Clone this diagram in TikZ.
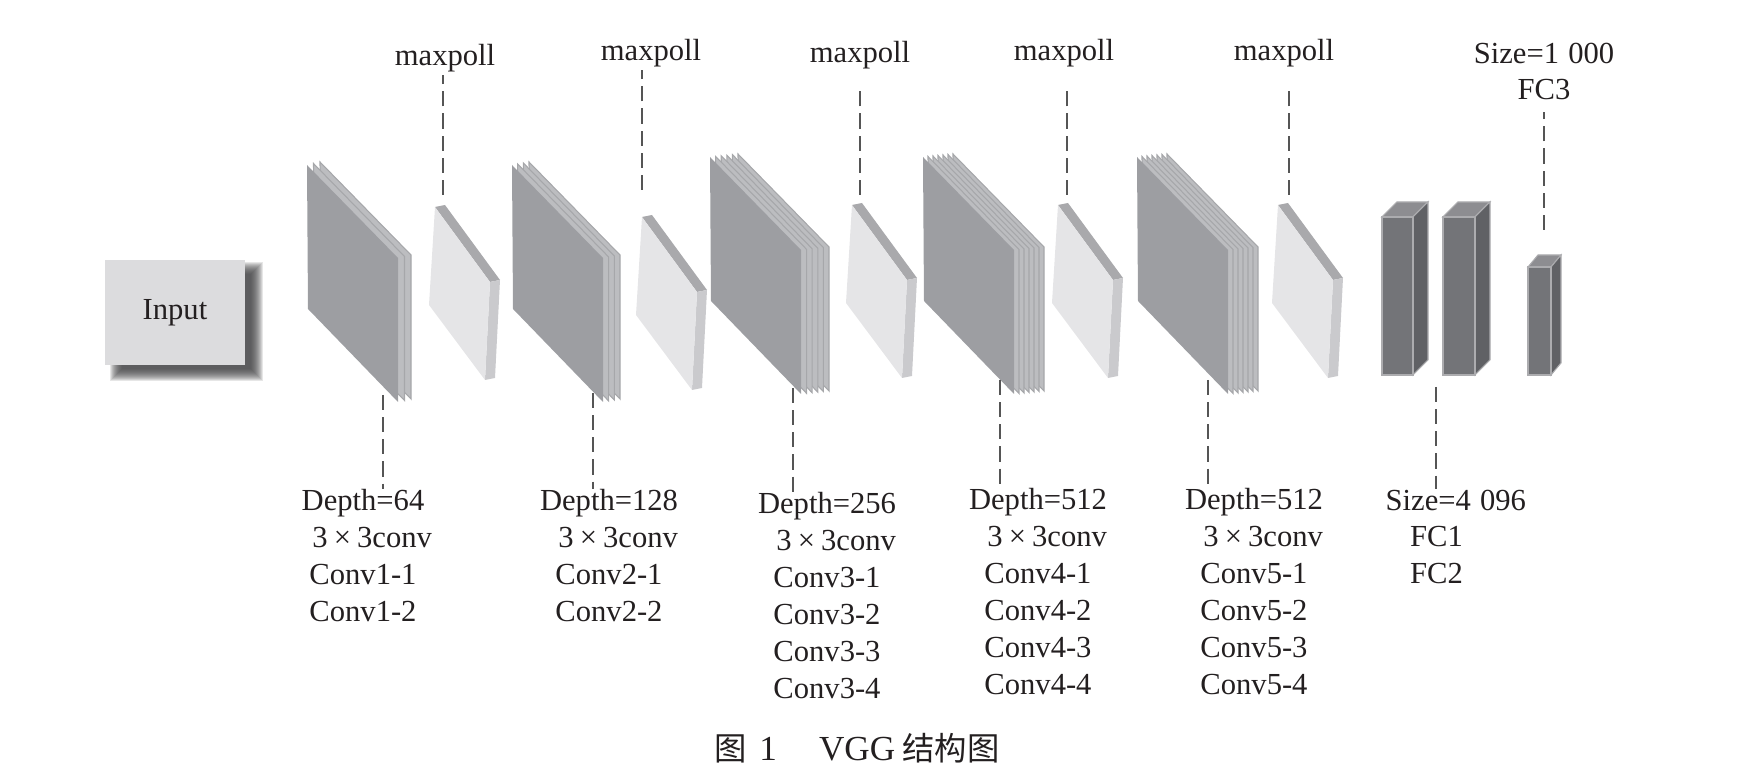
\documentclass[tikz,border=0pt]{standalone}
\usepackage{fontspec}
\setmainfont{Liberation Serif}
\newfontfamily\cjk[Scale=0.92]{Noto Sans CJK SC}

\definecolor{convfront}{RGB}{157,158,162}
\definecolor{convside}{RGB}{188,189,192}
\definecolor{convedge}{RGB}{166,167,170}
\definecolor{poolfront}{RGB}{229,229,231}
\definecolor{pooltop}{RGB}{169,169,172}
\definecolor{poolside}{RGB}{202,202,205}
\definecolor{fcfront}{RGB}{115,116,120}
\definecolor{fcside}{RGB}{96,97,101}
\definecolor{fctop}{RGB}{141,141,145}
\definecolor{fcedge}{RGB}{172,172,175}
\definecolor{inputfill}{RGB}{220,220,222}
\definecolor{shadowgray}{RGB}{60,60,62}
\definecolor{txt}{RGB}{35,31,32}
\definecolor{dashgray}{RGB}{85,85,85}

\newcommand{\lblfont}{\fontsize{8.7pt}{10.5pt}\selectfont}

% conv block: x, y of front top-left corner, layers, thickness
\newcommand{\convslab}[4]{%
  \foreach \k in {#3,...,1}
    \draw[fill=convside,draw=convedge,line width=0.3pt]
      ({#1+\k*#4/#3},{#2-\k*3/#3}) -- ++(91,93) -- ++(0,144) -- ++(-90,-93) -- cycle;
  \fill[convfront] (#1,#2) -- ++(91,93) -- ++(0,144) -- ++(-90,-93) -- cycle;
}
% pool block: x, y of front top-left corner
\newcommand{\poolslab}[2]{%
  \fill[pooltop] (#1,#2) -- ++(55,75) -- ++(10,-2) -- ++(-55,-75) -- cycle;
  \fill[poolside] ({#1+55},{#2+75}) -- ++(-5,98) -- ++(10,-2) -- ++(5,-98) -- cycle;
  \fill[poolfront] (#1,#2) -- ++(55,75) -- ++(-5,98) -- ++(-56,-75) -- cycle;
}
% fc block: x, y, width, height, depth x, depth y
\newcommand{\fcbox}[6]{%
  \draw[fill=fctop,draw=fcedge,line width=0.3pt] (#1,#2) -- ++(#5,-#6) -- ++(#3,0) -- ++(-#5,#6) -- cycle;
  \draw[fill=fcside,draw=fcedge,line width=0.3pt] ({#1+#3},#2) -- ++(#5,-#6) -- ++(0,#4) -- ++(-#5,#6) -- cycle;
  \draw[fill=fcfront,draw=fcedge,line width=0.3pt] (#1,#2) rectangle ++(#3,#4);
}

\begin{document}
\begin{tikzpicture}[x=0.01cm,y=-0.01cm,
  lbl/.style={font=\lblfont,text=txt,inner sep=0pt},
  leader/.style={draw=dashgray,line width=0.35pt,dash pattern=on 4.3pt off 2pt}]
  \useasboundingbox (0,0) rectangle (1753,783);

  % input with soft shadow
  \foreach \b in {12,11,...,0}
    \fill[shadowgray,opacity=0.13] ({122-\b},{274-\b}) rectangle ({251+\b},{369+\b});
  \node[lbl,fill=inputfill,minimum width=1.4cm,minimum height=1.05cm] (input) at (175,312.5) {Input};

  % conv and pool blocks
  \convslab{307}{165}{2}{13}
  \poolslab{435}{207}
  \convslab{512}{165}{3}{17}
  \poolslab{642}{217}
  \convslab{710}{157}{5}{28}
  \poolslab{852}{205}
  \convslab{923}{157}{6}{30}
  \poolslab{1058}{205}
  \convslab{1137}{157}{6}{30}
  \poolslab{1278}{205}

  % fully connected
  \fcbox{1382}{217}{31}{158}{15}{15}
  \fcbox{1443}{217}{32}{158}{15}{15}
  \fcbox{1528}{267}{23}{108}{10}{12}

  % top labels
  \node[lbl,anchor=base] (mp1) at (445,66) {maxpoll};
  \node[lbl,anchor=base] (mp2) at (651,61) {maxpoll};
  \node[lbl,anchor=base] (mp3) at (860,63) {maxpoll};
  \node[lbl,anchor=base] (mp4) at (1064,61) {maxpoll};
  \node[lbl,anchor=base] (mp5) at (1284,61) {maxpoll};
  \node[lbl,align=center,anchor=south] (fc3l) at (1544,101) {Size=1\hspace{0.3em}000\\FC3};

  % bottom labels
  \node[lbl,align=center,anchor=north] (g1) at (363,489)
    {Depth=64\\\hspace*{0.6em}3\hspace{0.2em}×\hspace{0.2em}3conv\\Conv1-1\\Conv1-2};
  \node[lbl,align=center,anchor=north] (g2) at (609,489)
    {Depth=128\\\hspace*{0.6em}3\hspace{0.2em}×\hspace{0.2em}3conv\\Conv2-1\\Conv2-2};
  \node[lbl,align=center,anchor=north] (g3) at (827,492)
    {Depth=256\\\hspace*{0.6em}3\hspace{0.2em}×\hspace{0.2em}3conv\\Conv3-1\\Conv3-2\\Conv3-3\\Conv3-4};
  \node[lbl,align=center,anchor=north] (g4) at (1038,488)
    {Depth=512\\\hspace*{0.6em}3\hspace{0.2em}×\hspace{0.2em}3conv\\Conv4-1\\Conv4-2\\Conv4-3\\Conv4-4};
  \node[lbl,align=center,anchor=north] (g5) at (1254,488)
    {Depth=512\\\hspace*{0.6em}3\hspace{0.2em}×\hspace{0.2em}3conv\\Conv5-1\\Conv5-2\\Conv5-3\\Conv5-4};
  \node[lbl,align=left,anchor=north west] (g6) at (1385,489)
    {Size=4\hspace{0.3em}096\\\hspace*{0.8em}FC1\\\hspace*{0.8em}FC2};

  % leader lines
  \coordinate (p1t) at (443,195);
  \coordinate (p2t) at (642,190);
  \coordinate (p3t) at (860,195);
  \coordinate (p4t) at (1067,195);
  \coordinate (p5t) at (1289,195);
  \coordinate (fc3t) at (1544,230);
  \draw[leader,shorten >=0.02cm] (p1t) -- (p1t |- mp1.south);
  \draw[leader,shorten >=0.02cm] (p2t) -- (p2t |- mp2.south);
  \draw[leader,shorten >=0.16cm] (p3t) -- (p3t |- mp3.south);
  \draw[leader,shorten >=0.18cm] (p4t) -- (p4t |- mp4.south);
  \draw[leader,shorten >=0.18cm] (p5t) -- (p5t |- mp5.south);
  \draw[leader,shorten >=0.11cm] (fc3t) -- (fc3t |- fc3l.south);

  \coordinate (c1b) at (383,395);
  \coordinate (c2b) at (593,393);
  \coordinate (c3b) at (793,388);
  \coordinate (c4b) at (1000,380);
  \coordinate (c5b) at (1208,380);
  \coordinate (fcb) at (1436,387);
  \draw[leader] (c1b) -- (c1b |- g1.north);
  \draw[leader] (c2b) -- (c2b |- g2.north);
  \draw[leader] (c3b) -- (c3b |- g3.north);
  \draw[leader] (c4b) -- (c4b |- g4.north);
  \draw[leader] (c5b) -- (c5b |- g5.north);
  \draw[leader] (fcb) -- (fcb |- g6.north);

  % caption
  \node[lbl,font=\fontsize{10pt}{12pt}\selectfont] (cap) at (857,748)
    {{\cjk 图}\hspace{0.35em}1\hspace{1.2em}VGG\hspace{0.2em}{\cjk 结构图}};
\end{tikzpicture}
\end{document}
